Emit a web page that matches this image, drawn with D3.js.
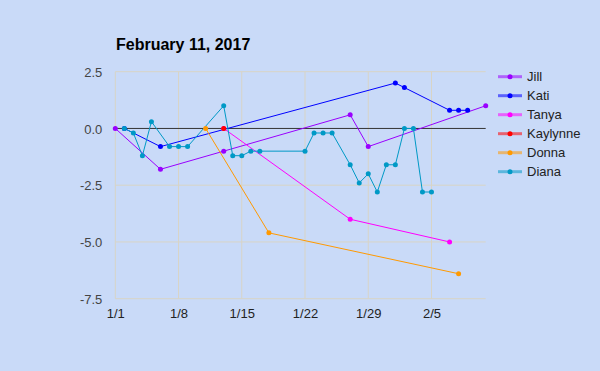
<!DOCTYPE html>
<html><head><meta charset="utf-8">
<script src="https://cdn.jsdelivr.net/npm/d3@7"></script>
<style>body{margin:0;background:#c9daf8;}svg{display:block;font-family:Arial,"Liberation Sans",sans-serif;}</style>
</head><body><svg id="c" width="600" height="371"></svg>
<script>
const title = "February 11, 2017";
const xTickLabels = ["1/1","1/8","1/15","1/22","1/29","2/5"];
const xTickDays = [0,7,14,21,28,35];
const yTicks = [2.5,0,-2.5,-5,-7.5];
const yTickLabels = ["2.5","0.0","-2.5","-5.0","-7.5"];
const seriesNames = ["Jill","Kati","Tanya","Kaylynne","Donna","Diana"];
const seriesColors = ["#9900ff","#0000ff","#ff00ff","#ff0000","#ff9900","#0099c6"];
// day offsets from 1/1 and values
const jillDays = [0,5,12,26,28,41];
const jillVals = [0,-1.8,-1.0,0.6,-0.8,1.0];
const katiDays = [1,5,31,32,37,38,39];
const katiVals = [0,-0.8,2.0,1.8,0.8,0.8,0.8];
const tanyaDays = [12,26,37];
const tanyaVals = [0,-4.0,-5.0];
const kaylynneDays = [12];
const kaylynneVals = [0];
const donnaDays = [10,17,38];
const donnaVals = [0,-4.6,-6.4];
const dianaDays = [1,2,3,4,6,7,8,12,13,14,15,16,21,22,23,24,26,27,28,29,30,31,32,33,34,35];
const dianaVals = [0,-0.2,-1.2,0.3,-0.8,-0.8,-0.8,1.0,-1.2,-1.2,-1.0,-1.0,-1.0,-0.2,-0.2,-0.2,-1.6,-2.4,-2.0,-2.8,-1.6,-1.6,0,0,-2.8,-2.8];

const allDays=[jillDays,katiDays,tanyaDays,kaylynneDays,donnaDays,dianaDays];
const allVals=[jillVals,katiVals,tanyaVals,kaylynneVals,donnaVals,dianaVals];
const series = seriesNames.map((n,i)=>({name:n,color:seriesColors[i],pts:allDays[i].map((d,j)=>({d:d,v:allVals[i][j]}))}));

const svg=d3.select("#c");
const x=d3.scaleLinear().domain([0,41]).range([115.3,485.7]);
const y=d3.scaleLinear().domain([-7.5,2.5]).range([298.7,71.7]);

svg.append("text").attr("x",116).attr("y",50).attr("font-size",16).attr("font-weight","bold").attr("fill","#000").text(title);

const grid=svg.append("g");
grid.selectAll("line.v").data(xTickDays).join("line").attr("x1",d=>x(d)).attr("x2",d=>x(d)).attr("y1",y(2.5)).attr("y2",y(-7.5)).attr("stroke","#d8d4c6").attr("stroke-width",1);
grid.selectAll("line.h").data(yTicks.filter(t=>t!==0)).join("line").attr("x1",x(0)).attr("x2",x(41)).attr("y1",d=>y(d)).attr("y2",d=>y(d)).attr("stroke","#d8d4c6").attr("stroke-width",1);
svg.append("line").attr("x1",x(0)).attr("x2",x(41)).attr("y1",y(0)).attr("y2",y(0)).attr("stroke","#333").attr("stroke-width",1);

const yAxis=d3.axisLeft(y).tickValues(yTicks).tickFormat((d,i)=>yTickLabels[i]).tickSize(0).tickPadding(13);
const ga=svg.append("g").attr("transform",`translate(${x(0)},0)`).call(yAxis);
ga.select(".domain").remove();
ga.selectAll("text").attr("font-size",13).attr("fill","#444").attr("font-family","Arial,'Liberation Sans',sans-serif").attr("dy","0.35em");

const xAxis=d3.axisBottom(x).tickValues(xTickDays).tickFormat((d,i)=>xTickLabels[i]).tickSize(0).tickPadding(10);
const gx=svg.append("g").attr("transform",`translate(0,${y(-7.5)})`).call(xAxis);
gx.select(".domain").remove();
gx.selectAll("text").attr("font-size",13).attr("fill","#222").attr("font-family","Arial,'Liberation Sans',sans-serif");

const line=d3.line().x(p=>x(p.d)).y(p=>y(p.v));
series.forEach(s=>{
  svg.append("path").attr("d",line(s.pts)).attr("fill","none").attr("stroke",s.color).attr("stroke-width",1);
});
series.forEach(s=>{
  svg.append("g").selectAll("circle").data(s.pts).join("circle").attr("cx",p=>x(p.d)).attr("cy",p=>y(p.v)).attr("r",2.5).attr("fill",s.color);
});

const leg=svg.append("g");
series.forEach((s,i)=>{
  const yy=76.7+i*19;
  leg.append("line").attr("x1",498).attr("x2",522).attr("y1",yy).attr("y2",yy).attr("stroke",s.color).attr("stroke-opacity",0.55).attr("stroke-width",3);
  leg.append("circle").attr("cx",510).attr("cy",yy).attr("r",2.5).attr("fill",s.color);
  leg.append("text").attr("x",527).attr("y",yy).attr("dy","0.36em").attr("font-size",13).attr("fill","#222").text(s.name);
});
</script></body></html>
